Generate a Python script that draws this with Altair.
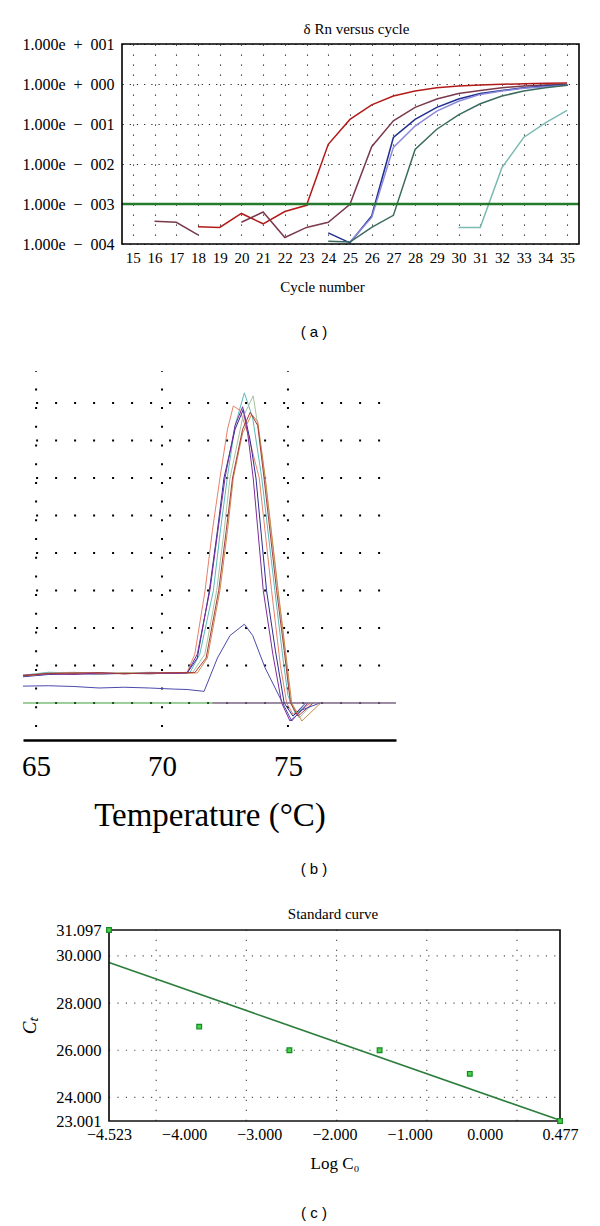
import altair as alt
import pandas as pd

SERIF = "Liberation Serif"
SANS = "Liberation Sans"

# ---------------- (a) delta Rn versus cycle ----------------
a_cycles = list(range(15, 36))
a_red = [None, None, None, 2.7e-4, 2.6e-4, 5.8e-4, 3.2e-4, 6.5e-4, 9.3e-4, 3.1e-2, 0.13,
         0.30, 0.50, 0.67, 0.81, 0.89, 0.94, 0.98, 1.02, 1.05, 1.06]
a_brown = [None, 3.7e-4, 3.5e-4, 1.7e-4, None, 3.5e-4, 6.3e-4, 1.45e-4, 2.6e-4, 3.5e-4, 9.8e-4,
           2.7e-2, 0.12, 0.26, 0.42, 0.58, 0.69, 0.81, 0.89, 0.94, 0.98]
a_navy = [None] * 9 + [1.9e-4, 1.07e-4, 5.0e-4, 4.6e-2, 0.13, 0.26, 0.42, 0.58, 0.69, 0.81, 0.89, 0.94]
a_lavender = [None] * 10 + [1.12e-4, 4.6e-4, 2.6e-2, 8.9e-2, 0.21, 0.37, 0.55, 0.67, 0.78, 0.85, 0.93]
a_darkteal = [None] * 9 + [1.17e-4, 1.12e-4, 2.6e-4, 5.2e-4, 2.3e-2, 7.4e-2, 0.17, 0.32, 0.50, 0.67, 0.81, 0.93]
a_lightteal = [None] * 15 + [2.6e-4, 2.6e-4, 8.1e-3, 4.6e-2, 0.107, 0.22]
a_names = ["red", "brown", "navy", "lavender", "darkteal", "lightteal"]
a_values = [a_red, a_brown, a_navy, a_lavender, a_darkteal, a_lightteal]
a_colors = ["#b31b1b", "#7b3a4c", "#1f2f8f", "#8c88dc", "#3b6b5f", "#7dbab3"]
a_threshold = 1e-3
a_xdomain = [14.5, 35.55]
a_ydomain = [1e-4, 1e1]
a_ytick_vals = [1e1, 1e0, 1e-1, 1e-2, 1e-3, 1e-4]
a_ytick_labels = ["1.000e\u2002+\u2002001", "1.000e\u2002+\u2002000", "1.000e\u2002\u2212\u2002001",
                  "1.000e\u2002\u2212\u2002002", "1.000e\u2002\u2212\u2002003", "1.000e\u2002\u2212\u2002004"]

# ---------------- (b) melt curves ----------------
b_curves = {
    "salmon": ([64.48, 65.5, 66.5, 67.5, 68.5, 69.5, 70.5, 71.0, 71.3, 71.71, 72.0, 72.3, 72.6, 72.83,
                73.1, 73.4, 73.86, 74.35, 74.7, 74.95, 75.2, 75.5, 75.9],
               [0.72, 0.80, 0.78, 0.80, 0.78, 0.80, 0.80, 0.82, 1.30, 3.00, 4.60, 6.00, 7.30, 7.92,
                7.80, 7.20, 6.00, 3.00, 1.00, 0.00, -0.30, -0.20, 0.00]),
    "teal": ([64.48, 65.5, 66.5, 67.5, 68.5, 69.5, 70.5, 71.1, 71.5, 72.04, 72.3, 72.59, 72.9, 73.27,
              73.6, 73.96, 74.48, 74.8, 75.0, 75.3, 75.8],
             [0.74, 0.82, 0.80, 0.79, 0.80, 0.79, 0.80, 0.80, 1.30, 3.00, 4.50, 6.00, 7.40, 8.27,
              7.60, 6.00, 3.00, 1.20, 0.20, -0.30, 0.00]),
    "navy": ([64.48, 65.5, 66.5, 67.5, 68.5, 69.5, 70.5, 71.0, 71.4, 71.88, 72.2, 72.46, 72.9, 73.23,
              73.5, 73.73, 74.15, 74.5, 74.85, 75.2, 75.7],
             [0.70, 0.76, 0.78, 0.77, 0.79, 0.78, 0.80, 0.80, 1.20, 3.00, 4.60, 6.00, 7.30, 7.83,
              7.00, 6.00, 3.00, 1.40, 0.00, -0.35, 0.00]),
    "graygreen": ([64.48, 65.5, 66.5, 67.5, 68.5, 69.5, 70.5, 71.2, 71.7, 72.17, 72.45, 72.7, 73.2, 73.62,
                   73.85, 74.09, 74.6, 74.9, 75.1, 75.45, 76.0],
                  [0.74, 0.80, 0.82, 0.78, 0.80, 0.82, 0.80, 0.80, 1.30, 3.00, 4.50, 6.00, 7.60, 8.19,
                   7.20, 6.00, 3.00, 1.30, 0.00, -0.40, 0.00]),
    "orange": ([64.48, 65.5, 66.5, 67.5, 68.5, 69.5, 70.5, 71.4, 71.8, 72.3, 72.6, 72.83, 73.2, 73.56,
                73.8, 74.1, 74.61, 74.9, 75.15, 75.55, 76.3],
               [0.72, 0.78, 0.80, 0.78, 0.80, 0.78, 0.80, 0.80, 1.20, 3.00, 4.60, 6.00, 7.20, 7.70,
                7.50, 6.00, 3.00, 1.40, 0.00, -0.48, 0.00]),
    "purple": ([64.48, 65.5, 66.5, 67.5, 68.5, 69.5, 70.5, 71.0, 71.4, 71.9, 72.2, 72.5, 72.9, 73.2,
                73.4, 73.62, 74.02, 74.4, 74.75, 75.08, 75.4, 75.8],
               [0.74, 0.78, 0.76, 0.80, 0.78, 0.80, 0.79, 0.80, 1.30, 3.00, 4.50, 6.00, 7.40, 7.90,
                7.20, 6.00, 3.00, 1.30, 0.00, -0.48, -0.30, 0.00]),
    "darkred": ([64.48, 65.5, 66.5, 67.5, 68.5, 69.5, 70.5, 71.3, 71.75, 72.25, 72.55, 72.8, 73.2, 73.5,
                 73.8, 74.05, 74.55, 74.85, 75.1, 75.4, 76.0],
                [0.73, 0.79, 0.80, 0.81, 0.78, 0.80, 0.81, 0.81, 1.20, 3.00, 4.60, 6.00, 7.30, 7.75,
                 7.40, 6.00, 3.00, 1.40, 0.00, -0.35, 0.00]),
    "smallblue": ([64.48, 65.5, 66.5, 67.5, 68.5, 69.5, 70.5, 71.0, 71.67, 72.2, 72.7, 73.27, 73.6, 74.09,
                   74.75, 75.15, 75.5, 76.27],
                  [0.45, 0.46, 0.44, 0.40, 0.42, 0.40, 0.37, 0.36, 0.31, 1.20, 1.80, 2.10, 1.80, 0.94,
                   0.05, -0.48, -0.20, 0.00]),
    "zerogreen": ([64.48, 79.29], [0.0, 0.0]),
    "zeropurple": ([72.0, 79.29], [0.0, 0.0]),
}
b_colors = {"salmon": "#e8806a", "teal": "#5cb8b8", "navy": "#2c2c94", "graygreen": "#a6c2a0",
            "orange": "#cc8a4c", "purple": "#7c2c9c", "darkred": "#a83838", "smallblue": "#4a4aac",
            "zerogreen": "#3c9c3c", "zeropurple": "#9a4aa8"}
b_xdomain = [64.48, 79.29]
b_ydomain = [-0.987, 8.853]
b_ticks = [65, 70, 75]
b_grid_rows = [0, 1, 2, 3, 4, 5, 6, 7, 8]
b_grid_cols = [65, 70, 75]

# ---------------- (c) standard curve ----------------
c_logc0 = [-4.523, -3.523, -2.523, -1.523, -0.523, 0.477]
c_ct = [31.097, 27.000, 26.000, 26.000, 25.000, 23.001]
c_fit_x = [-4.523, 0.477]
c_fit_y = [29.72, 23.03]
c_xdomain = [-4.523, 0.477]
c_ydomain = [23.001, 31.097]
# x tick labels sit at evenly spaced places along the axis in the figure
c_xtick_pos = [-4.523, -3.690, -2.857, -2.023, -1.190, -0.357, 0.477]
c_xtick_labels = ["\u22124.523", "\u22124.000", "\u22123.000", "\u22122.000", "\u22121.000", "0.000", "0.477"]
c_yticks = [23.001, 24.0, 26.0, 28.0, 30.0, 31.097]
c_grid_x = [-4.0, -3.0, -2.0, -1.0, 0.0]
c_grid_y = [24.0, 26.0, 28.0, 30.0]

# ================= build (a) =================
rows = []
for name, col, vals in zip(a_names, a_colors, a_values):
    seg = 0
    prev = False
    for c, v in zip(a_cycles, vals):
        if v is None:
            if prev:
                seg += 1
            prev = False
            continue
        rows.append(dict(series=name, col=col, seg=f"{name}-{seg}", cycle=c, rn=v))
        prev = True
a_df = pd.DataFrame(rows)

a_label_expr = ""
for v, lab in zip(a_ytick_vals, a_ytick_labels):
    a_label_expr += f"datum.value > {v / 2} ? '{lab}' : "
a_label_expr += "''"

a_x = alt.X("cycle:Q", scale=alt.Scale(domain=a_xdomain, nice=False, zero=False),
            axis=alt.Axis(values=a_cycles, title="Cycle number", grid=True, gridDash=[1.2, 8.8],
                          gridColor="#222", gridWidth=1.1, ticks=False, domain=False,
                          labelFont=SERIF, labelFontSize=15, labelColor="black", labelPadding=6,
                          labelFlush=False, labelOverlap=False,
                          titleFont=SERIF, titleFontSize=15, titleFontWeight="normal",
                          titleColor="black", titlePadding=14, titleX=200))
a_y = alt.Y("rn:Q", scale=alt.Scale(type="log", domain=a_ydomain, nice=False),
            axis=alt.Axis(values=a_ytick_vals, labelExpr=a_label_expr, title=None, grid=True,
                          gridDash=[1.2, 6], gridColor="#222", gridWidth=1.1, ticks=False,
                          domain=False, labelFont=SERIF, labelFontSize=16, labelColor="black",
                          labelPadding=8, labelFlush=False, labelOverlap=False))

a_lines = alt.Chart(a_df).mark_line(strokeWidth=1.5).encode(
    x=a_x, y=a_y, detail="seg:N", color=alt.Color("col:N", scale=None))
a_thr = alt.Chart(pd.DataFrame({"cycle": [a_xdomain[0]], "cycle2": [a_xdomain[1]], "rn": [a_threshold]})).mark_rule(
    color="#267a2e", strokeWidth=2.6).encode(x=a_x, x2=alt.X2("cycle2"), y=a_y)
a_frame = alt.Chart(pd.DataFrame({"cycle": [a_xdomain[0]], "cycle2": [a_xdomain[1]],
                                  "rn": [a_ydomain[0]], "rn2": [a_ydomain[1]]})).mark_rect(
    fillOpacity=0, stroke="black", strokeWidth=1.6).encode(x=a_x, x2=alt.X2("cycle2"), y=a_y, y2=alt.Y2("rn2"))
a_cap = alt.Chart(pd.DataFrame({"cap": ["( a )"]})).mark_text(font=SANS, fontSize=15, color="black").encode(
    text="cap:N", x=alt.value(192), y=alt.value(288))

panel_a = alt.layer(a_lines, a_thr, a_frame, a_cap).properties(
    width=457, height=200,
    title=alt.TitleParams("\u03b4 Rn versus cycle", font=SERIF, fontSize=15, fontWeight="normal",
                          color="black", anchor="middle", offset=-1, dx=6))

# ================= build (b) =================
brows = []
for name, (ts, vs) in b_curves.items():
    for t, v in zip(ts, vs):
        brows.append(dict(curve=name, col=b_colors[name], t=t, v=v))
b_df = pd.DataFrame(brows)

b_x = alt.X("t:Q", scale=alt.Scale(domain=b_xdomain, range=[-99, 274], nice=False, zero=False),
            axis=alt.Axis(values=b_ticks, title="Temperature (\u00b0C)", grid=False, ticks=False,
                          domain=True, domainColor="black", domainWidth=2.5,
                          labelFont=SERIF, labelFontSize=29, labelColor="black", labelPadding=12,
                          labelFlush=False, labelOverlap=False,
                          titleFont=SERIF, titleFontSize=33, titleFontWeight="normal",
                          titleColor="black", titlePadding=18))
b_y = alt.Y("v:Q", scale=alt.Scale(domain=b_ydomain, nice=False, zero=False), axis=None)

b_gh = alt.Chart(pd.DataFrame({"v": b_grid_rows, "t": [65] * len(b_grid_rows),
                               "t2": [b_xdomain[1]] * len(b_grid_rows)})).mark_rule(
    color="black", strokeWidth=2, strokeDash=[2, 17]).encode(x=b_x, x2=alt.X2("t2"), y=b_y)
b_gv = alt.Chart(pd.DataFrame({"t": b_grid_cols, "v": [-0.64] * 3, "v2": [8.853] * 3})).mark_rule(
    color="black", strokeWidth=2, strokeDash=[2, 16.7]).encode(x=b_x, y=b_y, y2=alt.Y2("v2"))
b_lines = alt.Chart(b_df).mark_line(strokeWidth=1).encode(
    x=b_x, y=b_y, detail="curve:N", color=alt.Color("col:N", scale=None))
b_cap = alt.Chart(pd.DataFrame({"cap": ["( b )"]})).mark_text(font=SANS, fontSize=15, color="black").encode(
    text="cap:N", x=alt.value(192), y=alt.value(498))

panel_b = alt.layer(b_gv, b_gh, b_lines, b_cap).properties(width=274, height=369)

# ================= build (c) =================
c_label_expr = ""
for p, lab in zip(c_xtick_pos, c_xtick_labels):
    c_label_expr += f"abs(datum.value - ({p})) < 0.01 ? '{lab}' : "
c_label_expr += "''"

c_x = alt.X("lc:Q", scale=alt.Scale(domain=c_xdomain, range=[-13, 438], nice=False, zero=False),
            axis=alt.Axis(values=c_xtick_pos, labelExpr=c_label_expr, title="Log C\u2080", grid=False,
                          ticks=False, domain=False,
                          labelFont=SERIF, labelFontSize=16, labelColor="black", labelPadding=5,
                          labelFlush=False, labelOverlap=False,
                          titleFont=SERIF, titleFontSize=17, titleFontWeight="normal",
                          titleColor="black", titlePadding=13))
c_y = alt.Y("ct:Q", scale=alt.Scale(domain=c_ydomain, nice=False, zero=False),
            axis=alt.Axis(values=c_yticks, format=".3f", title="C\u209c", grid=False, ticks=False,
                          domain=False, offset=13, labelFont=SERIF, labelFontSize=16.5,
                          labelColor="black", labelPadding=8, labelFlush=False, labelOverlap=False,
                          titleFont=SERIF, titleFontSize=19, titleFontStyle="italic",
                          titleFontWeight="normal", titleColor="black", titlePadding=16))

c_gv = alt.Chart(pd.DataFrame({"lc": c_grid_x, "ct": [c_ydomain[0]] * 5, "ct2": [c_ydomain[1]] * 5})).mark_rule(
    color="#555", strokeWidth=1.2, strokeDash=[1.2, 8.8]).encode(x=c_x, y=c_y, y2=alt.Y2("ct2"))
c_gh = alt.Chart(pd.DataFrame({"ct": c_grid_y, "lc": [c_xdomain[0]] * 4, "lc2": [c_xdomain[1]] * 4})).mark_rule(
    color="#555", strokeWidth=1.2, strokeDash=[1.2, 7.2]).encode(x=c_x, x2=alt.X2("lc2"), y=c_y)
c_frame = alt.Chart(pd.DataFrame({"lc": [c_xdomain[0]], "lc2": [c_xdomain[1]],
                                  "ct": [c_ydomain[0]], "ct2": [c_ydomain[1]]})).mark_rect(
    fillOpacity=0, stroke="#111", strokeWidth=1.7).encode(x=c_x, x2=alt.X2("lc2"), y=c_y, y2=alt.Y2("ct2"))
c_line = alt.Chart(pd.DataFrame({"lc": c_fit_x, "ct": c_fit_y})).mark_line(
    color="#2a7d3a", strokeWidth=1.6).encode(x=c_x, y=c_y)
c_pts = alt.Chart(pd.DataFrame({"lc": c_logc0, "ct": c_ct})).mark_square(
    size=22, filled=True, fill="#4cd04c", stroke="#138a22", strokeWidth=1.2, opacity=1).encode(x=c_x, y=c_y)
c_cap = alt.Chart(pd.DataFrame({"cap": ["( c )"]})).mark_text(font=SANS, fontSize=15, color="black").encode(
    text="cap:N", x=alt.value(192), y=alt.value(283))

panel_c = alt.layer(c_gv, c_gh, c_line, c_frame, c_pts, c_cap).properties(
    width=438, height=191,
    title=alt.TitleParams("Standard curve", font=SERIF, fontSize=15, fontWeight="normal",
                          color="black", anchor="middle", offset=0, dx=-8))

chart = alt.vconcat(panel_a, panel_b, panel_c, spacing=30).properties(
    padding={"left": 12, "top": 14, "right": 5, "bottom": 5}
).configure_view(strokeWidth=0, stroke="transparent")

chart.save("out.html", embed_options={"renderer": "svg", "actions": False})
